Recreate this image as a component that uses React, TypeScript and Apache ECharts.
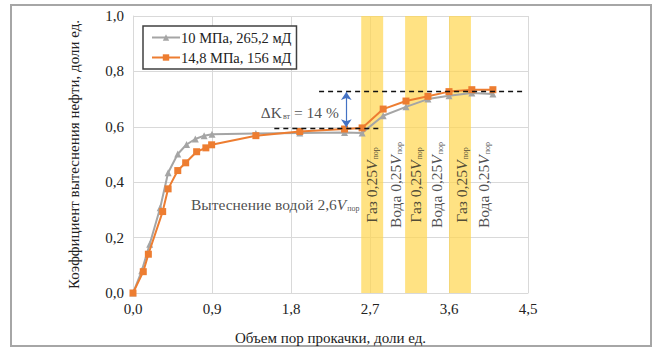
import React, { useEffect, useRef } from "react";
import * as echarts from "echarts";

const grayName = "10 МПа, 265,2 мД";
const orangeName = "14,8 МПа, 156 мД";
const grayX = [0, 0.1, 0.19, 0.31, 0.4, 0.51, 0.61, 0.71, 0.81, 0.9, 1.4, 1.9, 2.41, 2.61, 2.85, 3.11, 3.36, 3.6, 3.86, 4.1];
const grayY = [0, 0.08, 0.176, 0.308, 0.434, 0.502, 0.536, 0.556, 0.568, 0.573, 0.576, 0.578, 0.579, 0.578, 0.64, 0.672, 0.7, 0.712, 0.722, 0.718];
const orangeX = [0, 0.117, 0.175, 0.338, 0.4, 0.51, 0.6, 0.725, 0.83, 0.896, 1.4, 1.9, 2.41, 2.61, 2.85, 3.11, 3.36, 3.6, 3.86, 4.1];
const orangeY = [0, 0.077, 0.14, 0.294, 0.376, 0.442, 0.47, 0.51, 0.524, 0.535, 0.568, 0.583, 0.592, 0.596, 0.664, 0.693, 0.71, 0.727, 0.734, 0.734];
const bands = [
  [2.6, 2.85],
  [3.1, 3.35],
  [3.6, 3.85],
];
const bandLabels = ["Газ", "Вода", "Газ", "Вода", "Газ", "Вода"];
const bandLabelX = [2.72, 2.985, 3.22, 3.46, 3.74, 3.99];
const bandLabelY = 0.39;
const lowerDash = { x1: 1.61, x2: 2.81, y: 0.593 };
const upperDash = { x1: 2.12, x2: 4.46, y: 0.73 };
const arrow = { x: 2.43, y1: 0.598, y2: 0.726 };
const deltaLabel = { x: 1.9, y: 0.652 };
const waterLabel = { x: 1.62, y: 0.318 };

const FONT = "'Liberation Serif', 'Times New Roman', serif";
const fmt = (v: number) => v.toFixed(1).replace(".", ",");

export default function App() {
  const ref = useRef<HTMLDivElement>(null);
  useEffect(() => {
    document.body.style.margin = "0";
    const chart = echarts.init(ref.current!, undefined, { renderer: "svg" });
    const subRich = {
      a: { fontFamily: FONT, fontSize: 15.5, color: "#222" },
      i: { fontFamily: FONT, fontSize: 15.5, fontStyle: "italic", color: "#222" },
      s: { fontFamily: FONT, fontSize: 8, color: "#222", verticalAlign: "bottom", padding: [0, 0, 0, 1] },
    };
    const option: any = {
      animation: false,
      textStyle: { fontFamily: FONT },
      graphic: [
        {
          type: "rect",
          shape: { x: 11, y: 5, width: 640, height: 341 },
          style: { fill: "none", stroke: "#A6A6A6", lineWidth: 2 },
          silent: true,
        },
      ],
      grid: { left: 133, right: 126, top: 16, bottom: 56 },
      legend: {
        data: [grayName, orangeName],
        orient: "vertical",
        left: 143,
        top: 26,
        itemWidth: 28,
        itemHeight: 8,
        itemGap: 5,
        padding: [4, 5, 4, 8],
        borderColor: "#404040",
        borderWidth: 1.5,
        backgroundColor: "#fff",
        textStyle: { fontFamily: FONT, fontSize: 14.5, color: "#222", padding: [0, 0, 0, -4] },
      },
      xAxis: {
        type: "value",
        min: 0,
        max: 4.5,
        interval: 0.9,
        name: "Объем пор прокачки, доли ед.",
        nameLocation: "middle",
        nameGap: 37,
        nameTextStyle: { fontFamily: FONT, fontSize: 15, color: "#222" },
        axisLine: { show: true, lineStyle: { color: "#D9D9D9" } },
        axisTick: { show: false },
        splitLine: { show: true, lineStyle: { color: "#D9D9D9" } },
        axisLabel: { fontFamily: FONT, fontSize: 15, color: "#222", margin: 8, formatter: (v: number) => fmt(v) },
      },
      yAxis: {
        type: "value",
        min: 0,
        max: 1,
        interval: 0.2,
        name: "Коэффициент вытеснения нефти, доли ед.",
        nameLocation: "middle",
        nameGap: 52,
        nameTextStyle: { fontFamily: FONT, fontSize: 15, color: "#222" },
        axisLine: { show: true, lineStyle: { color: "#D9D9D9" } },
        axisTick: { show: false },
        splitLine: { show: true, lineStyle: { color: "#D9D9D9" } },
        axisLabel: { fontFamily: FONT, fontSize: 15, color: "#222", margin: 9, formatter: (v: number) => fmt(v) },
      },
      series: [
        {
          name: "bands",
          type: "line",
          data: [],
          z: 1,
          markArea: {
            silent: true,
            itemStyle: { color: "#FFD54F", opacity: 0.7 },
            data: bands.map((b) => [{ xAxis: b[0] }, { xAxis: b[1] }]),
          },
        },
        {
          name: grayName,
          type: "line",
          z: 3,
          data: grayX.map((x, i) => [x, grayY[i]]),
          symbol: "triangle",
          symbolSize: 7,
          color: "#A5A5A5",
          lineStyle: { width: 2, color: "#A5A5A5" },
          itemStyle: { color: "#A5A5A5" },
        },
        {
          name: orangeName,
          type: "line",
          z: 4,
          data: orangeX.map((x, i) => [x, orangeY[i]]),
          symbol: "rect",
          symbolSize: 7,
          color: "#ED7D31",
          lineStyle: { width: 2, color: "#ED7D31" },
          itemStyle: { color: "#ED7D31" },
          markLine: {
            silent: true,
            symbol: "none",
            label: { show: false },
            lineStyle: { type: [5, 4], color: "#111", width: 1.3 },
            data: [
              [
                { coord: [lowerDash.x1, lowerDash.y] },
                { coord: [lowerDash.x2, lowerDash.y] },
              ],
              [
                { coord: [upperDash.x1, upperDash.y] },
                { coord: [upperDash.x2, upperDash.y] },
              ],
              [
                {
                  coord: [arrow.x, arrow.y1],
                  symbol: "arrow",
                  symbolSize: 8,
                  lineStyle: { type: "solid", color: "#4472C4", width: 1.2 },
                },
                { coord: [arrow.x, arrow.y2], symbol: "arrow", symbolSize: 8 },
              ],
            ],
          },
        },
        {
          name: "labels",
          type: "scatter",
          z: 5,
          symbolSize: 0,
          silent: true,
          data: [
            ...bandLabels.map((t, i) => ({
              value: [bandLabelX[i], bandLabelY],
              label: {
                show: true,
                position: "inside",
                rotate: 90,
                formatter: `{a|${t} 0,25}{i|V}{s|пор}`,
                rich: subRich,
              },
            })),
            {
              value: [deltaLabel.x, deltaLabel.y],
              label: {
                show: true,
                position: "inside",
                formatter: "{a|ΔK}{s|вт}{a| = 14 %}",
                rich: subRich,
              },
            },
            {
              value: [waterLabel.x, waterLabel.y],
              label: {
                show: true,
                position: "inside",
                formatter: "{a|Вытеснение водой 2,6}{i|V}{s|пор}",
                rich: subRich,
              },
            },
          ],
        },
      ],
    };
    chart.setOption(option);
    return () => chart.dispose();
  }, []);
  return <div ref={ref} style={{ position: "absolute", left: 0, top: 0, width: 654, height: 350 }} />;
}
